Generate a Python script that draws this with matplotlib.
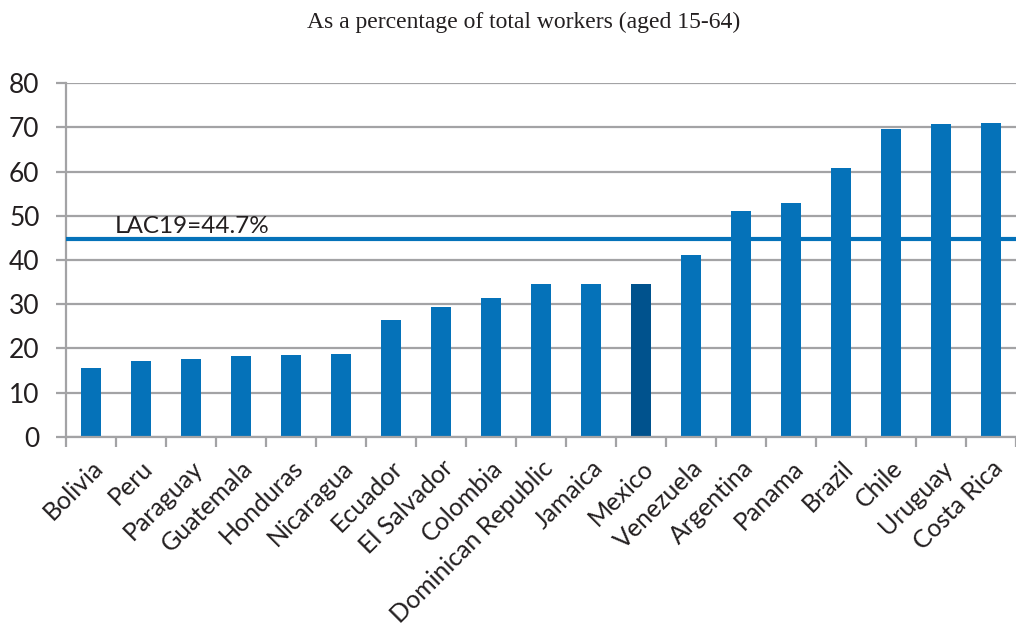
import matplotlib
matplotlib.use("Agg")
import matplotlib.pyplot as plt

countries = ["Bolivia", "Peru", "Paraguay", "Guatemala", "Honduras", "Nicaragua",
             "Ecuador", "El Salvador", "Colombia", "Dominican Republic", "Jamaica",
             "Mexico", "Venezuela", "Argentina", "Panama", "Brazil", "Chile",
             "Uruguay", "Costa Rica"]
shares = [15.5, 17.2, 17.7, 18.3, 18.6, 18.7, 26.5, 29.4, 31.4, 34.6, 34.6,
          34.5, 41.1, 51.0, 52.8, 60.9, 69.6, 70.7, 70.9]
lac_average = 44.7
highlight = "Mexico"
yticks = [0, 10, 20, 30, 40, 50, 60, 70, 80]

bar_color = "#0572B9"
highlight_color = "#00528D"
grid_color = "#A3A3A5"
text_color = "#231F20"

plt.rcParams["font.family"] = ["Lato", "DejaVu Sans"]

fig = plt.figure(figsize=(10.16, 6.30), dpi=100)
ax = fig.add_axes([66 / 1016, 1 - 436.7 / 630, 1 - 66 / 1016, (436.7 - 83.3) / 630])

x = list(range(len(countries)))
colors = [highlight_color if c == highlight else bar_color for c in countries]
ax.set_axisbelow(True)
ax.bar(x, shares, width=0.4, color=colors, zorder=2)

ax.axhline(lac_average, color=bar_color, linewidth=3.0, zorder=3)
ax.text(0.47, lac_average + 0.6, f"LAC19={lac_average}%", fontsize=17.5,
        color=text_color, ha="left", va="bottom", zorder=4)

ax.set_ylim(0, 80)
ax.set_xlim(-0.5, 18.27)
ax.set_yticks(yticks)
ax.yaxis.grid(True, color=grid_color, linewidth=1.6)
ax.tick_params(axis="y", length=7, width=1.6, color=grid_color, labelsize=19,
               labelcolor=text_color, pad=12)

# category boundaries carry the tick marks, names sit at bar centres
ax.set_xticks([i - 0.5 for i in x] + [len(x) - 0.5])
ax.set_xticklabels([])
ax.tick_params(axis="x", which="major", length=7, width=1.6, color=grid_color,
               direction="out")
ax.set_xticks(x, minor=True)
ax.set_xticklabels(countries, minor=True, rotation=45, ha="right",
                   rotation_mode="anchor", fontsize=18, color=text_color)
ax.tick_params(axis="x", which="minor", length=0, pad=14)

for side in ("top", "right"):
    ax.spines[side].set_visible(False)
for side in ("left", "bottom"):
    ax.spines[side].set_color(grid_color)
    ax.spines[side].set_linewidth(1.6)

fig.text(524 / 1016, 1 - 22 / 630, "As a percentage of total workers (aged 15-64)",
         fontsize=17, family=["Liberation Serif", "DejaVu Serif"],
         color=text_color, ha="center", va="center")

fig.savefig("out.png", dpi=100)
